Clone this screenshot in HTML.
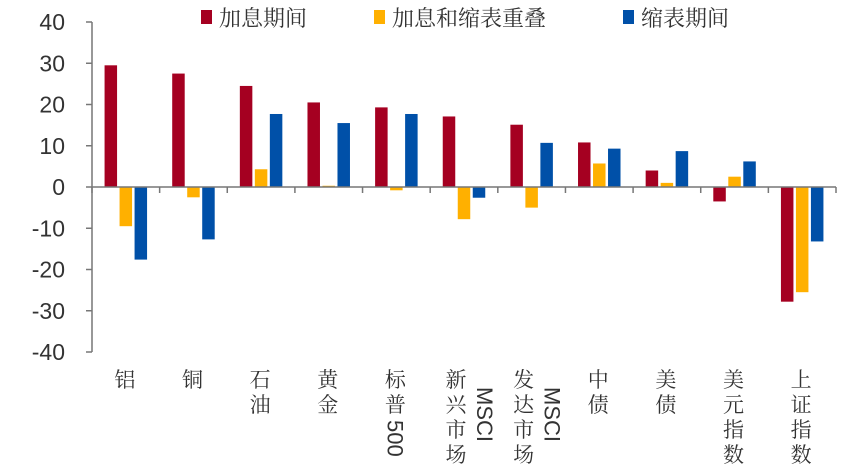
<!DOCTYPE html>
<html><head><meta charset="utf-8"><style>
html,body{margin:0;padding:0;background:#fff;}
svg{display:block;}
text{font-family:"Liberation Sans","Noto Sans CJK SC",sans-serif;}
.cat{font-family:"Noto Serif CJK SC","Noto Sans CJK SC",serif;font-size:21px;fill:#333;}
</style></head><body>
<svg id="chart" width="865" height="467" viewBox="0 0 865 467"></svg>
<script>
const categories = ["铝","铜","石油","黄金","标普500","新兴市场MSCI","发达市场MSCI","中债","美债","美元指数","上证指数"];
const hikeValues = [29.5,27.5,24.5,20.5,19.3,17.1,15.1,10.8,4.0,-3.5,-27.8];
const overlapValues = [-9.5,-2.5,4.3,0.3,-0.8,-7.8,-5.0,5.7,1.0,2.5,-25.5];
const qtValues = [-17.6,-12.7,17.7,15.5,17.7,-2.6,10.7,9.3,8.7,6.2,-13.2];
const yTicks = [40,30,20,10,0,-10,-20,-30,-40];
const seriesNames = ["加息期间","加息和缩表重叠","缩表期间"];

const NS="http://www.w3.org/2000/svg";
const svg=document.getElementById('chart');
const x0=92, x1=836, yTop=22, yBot=352, yMin=-40, yMax=40;
const band=(x1-x0)/categories.length;
function yScale(v){return yTop+(yMax-v)/(yMax-yMin)*(yBot-yTop);}
function xBand(i){return x0+i*band;}
function mk(tag,attrs){const e=document.createElementNS(NS,tag);for(const k in attrs)e.setAttribute(k,attrs[k]);svg.appendChild(e);return e;}
const colors=["#A50021","#FFB000","#0050A8"];
const series=[hikeValues,overlapValues,qtValues];
const seriesKeys=["hike","overlap","qt"];

let ax=mk('line',{x1:x0,y1:yTop,x2:x0,y2:yBot,stroke:'#777','stroke-width':1.5});


yTicks.forEach(t=>{
  const y=yScale(t);
  let tk=mk('line',{x1:x0-6,y1:y,x2:x0,y2:y,stroke:'#777','stroke-width':1.5});
  
  
  let tl=mk('text',{x:65,y:y+8,'text-anchor':'end','font-size':23,fill:'#333'});
  tl.textContent=t;
  
  
});

const bw=12.5, step=15;
categories.forEach((c,i)=>{
  const cx=xBand(i)+band/2;
  series.forEach((s,k)=>{
    const v=s[i];
    const bx=cx-bw/2+(k-1)*step;
    const y0=yScale(0), yv=yScale(v);
    let r=mk('rect',{x:bx,y:Math.min(y0,yv),width:bw,height:Math.max(Math.abs(yv-y0),0.8),fill:colors[k]});
    
    
  });
});

const yz=yScale(0);
let xa=mk('line',{x1:x0,y1:yz,x2:x1,y2:yz,stroke:'#777','stroke-width':1.5});


for(let i=0;i<=categories.length;i++){
  let tk=mk('line',{x1:xBand(i),y1:yz,x2:xBand(i),y2:yz+6,stroke:'#777','stroke-width':1.5});
  
  
}

function vtext(str,x,y,size){
  const chars=[...str];
  const g=mk('g',{});
  let cy=y;
  chars.forEach(ch=>{
    let t=document.createElementNS(NS,'text');
    t.setAttribute('class','cat');
    t.setAttribute('x',x);t.setAttribute('y',cy);t.setAttribute('text-anchor','middle');
    t.textContent=ch;g.appendChild(t);cy+=size;
  });
  return g;
}
function rotText(str,x,y){
  let t=mk('text',{x:0,y:0,'font-size':22,fill:'#333',transform:`translate(${x},${y}) rotate(90)`});
  t.textContent=str;return t;
}
categories.forEach((c,i)=>{
  const cx=xBand(i)+band/2;
  let g;
  if(c.endsWith('MSCI')){
    const cn=c.replace('MSCI','');
    g=mk('g',{});
    g.appendChild(vtext(cn,cx-8,387,25));
    g.appendChild(rotText('MSCI',cx+13,387));
  } else if(c.endsWith('500')){
    g=mk('g',{});
    g.appendChild(vtext('标普',cx-1,387,25));
    g.appendChild(rotText('500',cx-9,420));
  } else {
    g=vtext(c,cx-1,387,25);
  }
  
  
});

const legX=[201,374,623];
seriesNames.forEach((n,k)=>{
  let sq=mk('rect',{x:legX[k],y:10,width:11,height:14,fill:colors[k]});
  
  
  let t=mk('text',{x:legX[k]+18,y:26,fill:'#333'});
  t.setAttribute('class','cat');
  t.setAttribute('style','font-size:22px');
  t.textContent=n;
  
  
});
</script>
</body></html>
